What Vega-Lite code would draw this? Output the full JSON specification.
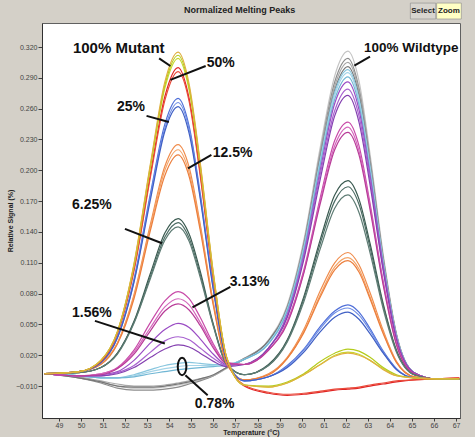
{
"$schema":"https://vega.github.io/schema/vega-lite/v6.json",
"width":418,"height":395,
"autosize":{"type":"none"},
"padding":{"left":42,"top":23,"right":15,"bottom":19},
"background":"#d4d0c8",
"config":{"view":{"fill":"white","stroke":"#606060","strokeWidth":1},"font":"Liberation Sans"},
"encoding":{
"x":{"field":"t","type":"quantitative","scale":{"domain":[48.23,67.18],"nice":false,"zero":false},
"axis":{"values":[49,50,51,52,53,54,55,56,57,58,59,60,61,62,63,64,65,66,67],"format":"d","title":"Temperature (°C)","titleFontSize":7,"titleFontWeight":"bold","titleColor":"#222","titlePadding":0,"labelFontSize":7,"labelColor":"#444","tickSize":3,"tickColor":"#404040","domainColor":"#303030","grid":false,"labelPadding":0}},
"y":{"field":"v","type":"quantitative","scale":{"domain":[-0.0411,0.3434],"nice":false,"zero":false},
"axis":{"values":[-0.01,0.02,0.05,0.08,0.11,0.14,0.17,0.2,0.23,0.26,0.29,0.32],"format":".3f","title":"Relative Signal (%)","titleFontSize":7,"titleFontWeight":"bold","titleColor":"#222","titlePadding":2,"labelFontSize":7,"labelColor":"#444","tickSize":4,"tickColor":"#404040","domainColor":"#303030","grid":false,"labelPadding":1}}
},
"layer":[
{"data":{"values":[
{"s":"g1","t":48.35,"v":0.002},{"s":"g1","t":49.9,"v":-0.002},{"s":"g1","t":50.9,"v":-0.006},{"s":"g1","t":51.65,"v":-0.010},{"s":"g1","t":52.4,"v":-0.012},{"s":"g1","t":53.15,"v":-0.012},{"s":"g1","t":53.8,"v":-0.011},{"s":"g1","t":54.4,"v":-0.009},{"s":"g1","t":54.9,"v":-0.007},{"s":"g1","t":55.4,"v":-0.004},{"s":"g1","t":56,"v":0.000},{"s":"g1","t":56.6,"v":0.008},{"s":"g1","t":57.4,"v":0.017},{"s":"g1","t":58.5,"v":0.035},{"s":"g1","t":59.35,"v":0.069},{"s":"g1","t":60.1,"v":0.132},{"s":"g1","t":60.85,"v":0.223},{"s":"g1","t":61.5,"v":0.292},{"s":"g1","t":62.1,"v":0.316},{"s":"g1","t":62.6,"v":0.287},{"s":"g1","t":63.1,"v":0.216},{"s":"g1","t":63.7,"v":0.118},{"s":"g1","t":64.3,"v":0.041},{"s":"g1","t":65.1,"v":0.003},{"s":"g1","t":66.1,"v":-0.003},{"s":"g1","t":67.15,"v":-0.003},
{"s":"g2","t":48.35,"v":0.002},{"s":"g2","t":49.9,"v":-0.002},{"s":"g2","t":50.9,"v":-0.007},{"s":"g2","t":51.65,"v":-0.012},{"s":"g2","t":52.4,"v":-0.014},{"s":"g2","t":53.15,"v":-0.014},{"s":"g2","t":53.8,"v":-0.013},{"s":"g2","t":54.4,"v":-0.011},{"s":"g2","t":54.9,"v":-0.008},{"s":"g2","t":55.4,"v":-0.005},{"s":"g2","t":56,"v":0.000},{"s":"g2","t":56.6,"v":0.008},{"s":"g2","t":57.4,"v":0.017},{"s":"g2","t":58.5,"v":0.034},{"s":"g2","t":59.35,"v":0.067},{"s":"g2","t":60.1,"v":0.129},{"s":"g2","t":60.85,"v":0.218},{"s":"g2","t":61.5,"v":0.286},{"s":"g2","t":62.1,"v":0.309},{"s":"g2","t":62.6,"v":0.280},{"s":"g2","t":63.1,"v":0.211},{"s":"g2","t":63.7,"v":0.115},{"s":"g2","t":64.3,"v":0.040},{"s":"g2","t":65.1,"v":0.003},{"s":"g2","t":66.1,"v":-0.003},{"s":"g2","t":67.15,"v":-0.003},
{"s":"g3","t":48.35,"v":0.002},{"s":"g3","t":49.9,"v":-0.001},{"s":"g3","t":50.9,"v":-0.005},{"s":"g3","t":51.65,"v":-0.008},{"s":"g3","t":52.4,"v":-0.010},{"s":"g3","t":53.15,"v":-0.010},{"s":"g3","t":53.8,"v":-0.009},{"s":"g3","t":54.4,"v":-0.007},{"s":"g3","t":54.9,"v":-0.005},{"s":"g3","t":55.4,"v":-0.003},{"s":"g3","t":56,"v":0.000},{"s":"g3","t":56.6,"v":0.007},{"s":"g3","t":57.4,"v":0.016},{"s":"g3","t":58.5,"v":0.034},{"s":"g3","t":59.35,"v":0.067},{"s":"g3","t":60.1,"v":0.128},{"s":"g3","t":60.85,"v":0.216},{"s":"g3","t":61.5,"v":0.282},{"s":"g3","t":62.1,"v":0.305},{"s":"g3","t":62.6,"v":0.277},{"s":"g3","t":63.1,"v":0.209},{"s":"g3","t":63.7,"v":0.114},{"s":"g3","t":64.3,"v":0.040},{"s":"g3","t":65.1,"v":0.003},{"s":"g3","t":66.1,"v":-0.003},{"s":"g3","t":67.15,"v":-0.003},
{"s":"g4","t":48.35,"v":0.002},{"s":"g4","t":49.9,"v":-0.002},{"s":"g4","t":50.9,"v":-0.006},{"s":"g4","t":51.65,"v":-0.010},{"s":"g4","t":52.4,"v":-0.011},{"s":"g4","t":53.15,"v":-0.011},{"s":"g4","t":53.8,"v":-0.010},{"s":"g4","t":54.4,"v":-0.008},{"s":"g4","t":54.9,"v":-0.006},{"s":"g4","t":55.4,"v":-0.003},{"s":"g4","t":56,"v":0.001},{"s":"g4","t":56.6,"v":0.008},{"s":"g4","t":57.4,"v":0.016},{"s":"g4","t":58.5,"v":0.034},{"s":"g4","t":59.35,"v":0.066},{"s":"g4","t":60.1,"v":0.126},{"s":"g4","t":60.85,"v":0.213},{"s":"g4","t":61.5,"v":0.278},{"s":"g4","t":62.1,"v":0.301},{"s":"g4","t":62.6,"v":0.273},{"s":"g4","t":63.1,"v":0.206},{"s":"g4","t":63.7,"v":0.112},{"s":"g4","t":64.3,"v":0.039},{"s":"g4","t":65.1,"v":0.003},{"s":"g4","t":66.1,"v":-0.003},{"s":"g4","t":67.15,"v":-0.003},
{"s":"l1","t":48.35,"v":0.002},{"s":"l1","t":49.9,"v":0.000},{"s":"l1","t":50.9,"v":-0.002},{"s":"l1","t":51.65,"v":-0.002},{"s":"l1","t":52.4,"v":0.001},{"s":"l1","t":53.15,"v":0.006},{"s":"l1","t":53.8,"v":0.010},{"s":"l1","t":54.4,"v":0.012},{"s":"l1","t":54.9,"v":0.013},{"s":"l1","t":55.4,"v":0.012},{"s":"l1","t":56,"v":0.011},{"s":"l1","t":56.6,"v":0.011},{"s":"l1","t":57.4,"v":0.016},{"s":"l1","t":58.5,"v":0.032},{"s":"l1","t":59.35,"v":0.065},{"s":"l1","t":60.1,"v":0.125},{"s":"l1","t":60.85,"v":0.211},{"s":"l1","t":61.5,"v":0.276},{"s":"l1","t":62.1,"v":0.298},{"s":"l1","t":62.6,"v":0.270},{"s":"l1","t":63.1,"v":0.204},{"s":"l1","t":63.7,"v":0.111},{"s":"l1","t":64.3,"v":0.039},{"s":"l1","t":65.1,"v":0.003},{"s":"l1","t":66.1,"v":-0.003},{"s":"l1","t":67.15,"v":-0.003},
{"s":"l2","t":48.35,"v":0.002},{"s":"l2","t":49.9,"v":0.000},{"s":"l2","t":50.9,"v":-0.002},{"s":"l2","t":51.65,"v":-0.002},{"s":"l2","t":52.4,"v":0.000},{"s":"l2","t":53.15,"v":0.004},{"s":"l2","t":53.8,"v":0.007},{"s":"l2","t":54.4,"v":0.009},{"s":"l2","t":54.9,"v":0.010},{"s":"l2","t":55.4,"v":0.010},{"s":"l2","t":56,"v":0.010},{"s":"l2","t":56.6,"v":0.011},{"s":"l2","t":57.4,"v":0.016},{"s":"l2","t":58.5,"v":0.032},{"s":"l2","t":59.35,"v":0.064},{"s":"l2","t":60.1,"v":0.124},{"s":"l2","t":60.85,"v":0.209},{"s":"l2","t":61.5,"v":0.273},{"s":"l2","t":62.1,"v":0.295},{"s":"l2","t":62.6,"v":0.268},{"s":"l2","t":63.1,"v":0.202},{"s":"l2","t":63.7,"v":0.110},{"s":"l2","t":64.3,"v":0.038},{"s":"l2","t":65.1,"v":0.003},{"s":"l2","t":66.1,"v":-0.003},{"s":"l2","t":67.15,"v":-0.003},
{"s":"l3","t":48.35,"v":0.002},{"s":"l3","t":49.9,"v":0.000},{"s":"l3","t":50.9,"v":-0.002},{"s":"l3","t":51.65,"v":-0.002},{"s":"l3","t":52.4,"v":-0.001},{"s":"l3","t":53.15,"v":0.002},{"s":"l3","t":53.8,"v":0.004},{"s":"l3","t":54.4,"v":0.006},{"s":"l3","t":54.9,"v":0.007},{"s":"l3","t":55.4,"v":0.008},{"s":"l3","t":56,"v":0.009},{"s":"l3","t":56.6,"v":0.010},{"s":"l3","t":57.4,"v":0.016},{"s":"l3","t":58.5,"v":0.031},{"s":"l3","t":59.35,"v":0.063},{"s":"l3","t":60.1,"v":0.122},{"s":"l3","t":60.85,"v":0.206},{"s":"l3","t":61.5,"v":0.269},{"s":"l3","t":62.1,"v":0.291},{"s":"l3","t":62.6,"v":0.264},{"s":"l3","t":63.1,"v":0.199},{"s":"l3","t":63.7,"v":0.109},{"s":"l3","t":64.3,"v":0.038},{"s":"l3","t":65.1,"v":0.003},{"s":"l3","t":66.1,"v":-0.003},{"s":"l3","t":67.15,"v":-0.003},
{"s":"p1","t":48.35,"v":0.002},{"s":"p1","t":49.9,"v":0.000},{"s":"p1","t":50.9,"v":0.001},{"s":"p1","t":51.65,"v":0.004},{"s":"p1","t":52.4,"v":0.015},{"s":"p1","t":53.15,"v":0.032},{"s":"p1","t":53.8,"v":0.045},{"s":"p1","t":54.4,"v":0.051},{"s":"p1","t":54.9,"v":0.047},{"s":"p1","t":55.4,"v":0.036},{"s":"p1","t":56,"v":0.021},{"s":"p1","t":56.6,"v":0.011},{"s":"p1","t":57.4,"v":0.011},{"s":"p1","t":58.5,"v":0.027},{"s":"p1","t":59.35,"v":0.060},{"s":"p1","t":60.1,"v":0.118},{"s":"p1","t":60.85,"v":0.201},{"s":"p1","t":61.5,"v":0.265},{"s":"p1","t":62.1,"v":0.286},{"s":"p1","t":62.6,"v":0.259},{"s":"p1","t":63.1,"v":0.195},{"s":"p1","t":63.7,"v":0.107},{"s":"p1","t":64.3,"v":0.037},{"s":"p1","t":65.1,"v":0.003},{"s":"p1","t":66.1,"v":-0.003},{"s":"p1","t":67.15,"v":-0.003},
{"s":"p2","t":48.35,"v":0.002},{"s":"p2","t":49.9,"v":0.000},{"s":"p2","t":50.9,"v":0.000},{"s":"p2","t":51.65,"v":0.003},{"s":"p2","t":52.4,"v":0.010},{"s":"p2","t":53.15,"v":0.023},{"s":"p2","t":53.8,"v":0.034},{"s":"p2","t":54.4,"v":0.038},{"s":"p2","t":54.9,"v":0.035},{"s":"p2","t":55.4,"v":0.027},{"s":"p2","t":56,"v":0.017},{"s":"p2","t":56.6,"v":0.010},{"s":"p2","t":57.4,"v":0.011},{"s":"p2","t":58.5,"v":0.027},{"s":"p2","t":59.35,"v":0.058},{"s":"p2","t":60.1,"v":0.116},{"s":"p2","t":60.85,"v":0.197},{"s":"p2","t":61.5,"v":0.258},{"s":"p2","t":62.1,"v":0.279},{"s":"p2","t":62.6,"v":0.253},{"s":"p2","t":63.1,"v":0.191},{"s":"p2","t":63.7,"v":0.104},{"s":"p2","t":64.3,"v":0.036},{"s":"p2","t":65.1,"v":0.003},{"s":"p2","t":66.1,"v":-0.003},{"s":"p2","t":67.15,"v":-0.003},
{"s":"p3","t":48.35,"v":0.002},{"s":"p3","t":49.9,"v":0.000},{"s":"p3","t":50.9,"v":0.000},{"s":"p3","t":51.65,"v":0.002},{"s":"p3","t":52.4,"v":0.008},{"s":"p3","t":53.15,"v":0.018},{"s":"p3","t":53.8,"v":0.026},{"s":"p3","t":54.4,"v":0.030},{"s":"p3","t":54.9,"v":0.028},{"s":"p3","t":55.4,"v":0.022},{"s":"p3","t":56,"v":0.014},{"s":"p3","t":56.6,"v":0.009},{"s":"p3","t":57.4,"v":0.011},{"s":"p3","t":58.5,"v":0.027},{"s":"p3","t":59.35,"v":0.057},{"s":"p3","t":60.1,"v":0.113},{"s":"p3","t":60.85,"v":0.192},{"s":"p3","t":61.5,"v":0.253},{"s":"p3","t":62.1,"v":0.273},{"s":"p3","t":62.6,"v":0.247},{"s":"p3","t":63.1,"v":0.186},{"s":"p3","t":63.7,"v":0.102},{"s":"p3","t":64.3,"v":0.035},{"s":"p3","t":65.1,"v":0.003},{"s":"p3","t":66.1,"v":-0.003},{"s":"p3","t":67.15,"v":-0.003},
{"s":"m1","t":48.35,"v":0.002},{"s":"m1","t":49.9,"v":0.000},{"s":"m1","t":50.9,"v":0.002},{"s":"m1","t":51.65,"v":0.008},{"s":"m1","t":52.4,"v":0.025},{"s":"m1","t":53.15,"v":0.052},{"s":"m1","t":53.8,"v":0.073},{"s":"m1","t":54.4,"v":0.082},{"s":"m1","t":54.9,"v":0.075},{"s":"m1","t":55.4,"v":0.057},{"s":"m1","t":56,"v":0.031},{"s":"m1","t":56.6,"v":0.013},{"s":"m1","t":57.4,"v":0.011},{"s":"m1","t":58.5,"v":0.025},{"s":"m1","t":59.35,"v":0.053},{"s":"m1","t":60.1,"v":0.103},{"s":"m1","t":60.85,"v":0.174},{"s":"m1","t":61.5,"v":0.229},{"s":"m1","t":62.1,"v":0.247},{"s":"m1","t":62.6,"v":0.224},{"s":"m1","t":63.1,"v":0.168},{"s":"m1","t":63.7,"v":0.092},{"s":"m1","t":64.3,"v":0.032},{"s":"m1","t":65.1,"v":0.002},{"s":"m1","t":66.1,"v":-0.003},{"s":"m1","t":67.15,"v":-0.003},
{"s":"m2","t":48.35,"v":0.002},{"s":"m2","t":49.9,"v":0.000},{"s":"m2","t":50.9,"v":0.002},{"s":"m2","t":51.65,"v":0.007},{"s":"m2","t":52.4,"v":0.023},{"s":"m2","t":53.15,"v":0.047},{"s":"m2","t":53.8,"v":0.067},{"s":"m2","t":54.4,"v":0.075},{"s":"m2","t":54.9,"v":0.069},{"s":"m2","t":55.4,"v":0.052},{"s":"m2","t":56,"v":0.029},{"s":"m2","t":56.6,"v":0.012},{"s":"m2","t":57.4,"v":0.011},{"s":"m2","t":58.5,"v":0.025},{"s":"m2","t":59.35,"v":0.052},{"s":"m2","t":60.1,"v":0.101},{"s":"m2","t":60.85,"v":0.171},{"s":"m2","t":61.5,"v":0.224},{"s":"m2","t":62.1,"v":0.242},{"s":"m2","t":62.6,"v":0.219},{"s":"m2","t":63.1,"v":0.165},{"s":"m2","t":63.7,"v":0.090},{"s":"m2","t":64.3,"v":0.031},{"s":"m2","t":65.1,"v":0.002},{"s":"m2","t":66.1,"v":-0.003},{"s":"m2","t":67.15,"v":-0.003},
{"s":"m3","t":48.35,"v":0.002},{"s":"m3","t":49.9,"v":0.000},{"s":"m3","t":50.9,"v":0.001},{"s":"m3","t":51.65,"v":0.007},{"s":"m3","t":52.4,"v":0.021},{"s":"m3","t":53.15,"v":0.044},{"s":"m3","t":53.8,"v":0.063},{"s":"m3","t":54.4,"v":0.070},{"s":"m3","t":54.9,"v":0.064},{"s":"m3","t":55.4,"v":0.049},{"s":"m3","t":56,"v":0.027},{"s":"m3","t":56.6,"v":0.012},{"s":"m3","t":57.4,"v":0.011},{"s":"m3","t":58.5,"v":0.025},{"s":"m3","t":59.35,"v":0.051},{"s":"m3","t":60.1,"v":0.100},{"s":"m3","t":60.85,"v":0.168},{"s":"m3","t":61.5,"v":0.220},{"s":"m3","t":62.1,"v":0.237},{"s":"m3","t":62.6,"v":0.215},{"s":"m3","t":63.1,"v":0.162},{"s":"m3","t":63.7,"v":0.088},{"s":"m3","t":64.3,"v":0.030},{"s":"m3","t":65.1,"v":0.002},{"s":"m3","t":66.1,"v":-0.003},{"s":"m3","t":67.15,"v":-0.003},
{"s":"d1","t":48.35,"v":0.002},{"s":"d1","t":49.9,"v":0.003},{"s":"d1","t":50.9,"v":0.008},{"s":"d1","t":51.65,"v":0.022},{"s":"d1","t":52.4,"v":0.053},{"s":"d1","t":53.15,"v":0.100},{"s":"d1","t":53.8,"v":0.139},{"s":"d1","t":54.4,"v":0.153},{"s":"d1","t":54.9,"v":0.138},{"s":"d1","t":55.4,"v":0.102},{"s":"d1","t":56,"v":0.050},{"s":"d1","t":56.6,"v":0.012},{"s":"d1","t":57.4,"v":0.001},{"s":"d1","t":58.5,"v":0.011},{"s":"d1","t":59.35,"v":0.035},{"s":"d1","t":60.1,"v":0.077},{"s":"d1","t":60.85,"v":0.133},{"s":"d1","t":61.5,"v":0.176},{"s":"d1","t":62.1,"v":0.190},{"s":"d1","t":62.6,"v":0.172},{"s":"d1","t":63.1,"v":0.129},{"s":"d1","t":63.7,"v":0.070},{"s":"d1","t":64.3,"v":0.025},{"s":"d1","t":65.1,"v":0.001},{"s":"d1","t":66.1,"v":-0.003},{"s":"d1","t":67.15,"v":-0.003},
{"s":"d2","t":48.35,"v":0.002},{"s":"d2","t":49.9,"v":0.003},{"s":"d2","t":50.9,"v":0.008},{"s":"d2","t":51.65,"v":0.022},{"s":"d2","t":52.4,"v":0.052},{"s":"d2","t":53.15,"v":0.097},{"s":"d2","t":53.8,"v":0.135},{"s":"d2","t":54.4,"v":0.149},{"s":"d2","t":54.9,"v":0.134},{"s":"d2","t":55.4,"v":0.099},{"s":"d2","t":56,"v":0.049},{"s":"d2","t":56.6,"v":0.011},{"s":"d2","t":57.4,"v":0.001},{"s":"d2","t":58.5,"v":0.010},{"s":"d2","t":59.35,"v":0.034},{"s":"d2","t":60.1,"v":0.075},{"s":"d2","t":60.85,"v":0.129},{"s":"d2","t":61.5,"v":0.170},{"s":"d2","t":62.1,"v":0.184},{"s":"d2","t":62.6,"v":0.167},{"s":"d2","t":63.1,"v":0.125},{"s":"d2","t":63.7,"v":0.068},{"s":"d2","t":64.3,"v":0.024},{"s":"d2","t":65.1,"v":0.001},{"s":"d2","t":66.1,"v":-0.003},{"s":"d2","t":67.15,"v":-0.003},
{"s":"d3","t":48.35,"v":0.002},{"s":"d3","t":49.9,"v":0.003},{"s":"d3","t":50.9,"v":0.008},{"s":"d3","t":51.65,"v":0.021},{"s":"d3","t":52.4,"v":0.051},{"s":"d3","t":53.15,"v":0.095},{"s":"d3","t":53.8,"v":0.132},{"s":"d3","t":54.4,"v":0.145},{"s":"d3","t":54.9,"v":0.131},{"s":"d3","t":55.4,"v":0.096},{"s":"d3","t":56,"v":0.048},{"s":"d3","t":56.6,"v":0.011},{"s":"d3","t":57.4,"v":0.001},{"s":"d3","t":58.5,"v":0.010},{"s":"d3","t":59.35,"v":0.033},{"s":"d3","t":60.1,"v":0.072},{"s":"d3","t":60.85,"v":0.124},{"s":"d3","t":61.5,"v":0.163},{"s":"d3","t":62.1,"v":0.176},{"s":"d3","t":62.6,"v":0.159},{"s":"d3","t":63.1,"v":0.120},{"s":"d3","t":63.7,"v":0.065},{"s":"d3","t":64.3,"v":0.023},{"s":"d3","t":65.1,"v":0.001},{"s":"d3","t":66.1,"v":-0.003},{"s":"d3","t":67.15,"v":-0.003},
{"s":"o1","t":48.35,"v":0.002},{"s":"o1","t":49.9,"v":0.004},{"s":"o1","t":50.9,"v":0.012},{"s":"o1","t":51.65,"v":0.032},{"s":"o1","t":52.4,"v":0.079},{"s":"o1","t":53.15,"v":0.148},{"s":"o1","t":53.8,"v":0.204},{"s":"o1","t":54.4,"v":0.225},{"s":"o1","t":54.9,"v":0.203},{"s":"o1","t":55.4,"v":0.148},{"s":"o1","t":56,"v":0.071},{"s":"o1","t":56.6,"v":0.013},{"s":"o1","t":57.4,"v":-0.004},{"s":"o1","t":58.5,"v":0.002},{"s":"o1","t":59.35,"v":0.018},{"s":"o1","t":60.1,"v":0.045},{"s":"o1","t":60.85,"v":0.083},{"s":"o1","t":61.5,"v":0.110},{"s":"o1","t":62.1,"v":0.120},{"s":"o1","t":62.6,"v":0.108},{"s":"o1","t":63.1,"v":0.081},{"s":"o1","t":63.7,"v":0.044},{"s":"o1","t":64.3,"v":0.014},{"s":"o1","t":65.1,"v":-0.001},{"s":"o1","t":66.1,"v":-0.003},{"s":"o1","t":67.15,"v":-0.003},
{"s":"o2","t":48.35,"v":0.002},{"s":"o2","t":49.9,"v":0.004},{"s":"o2","t":50.9,"v":0.012},{"s":"o2","t":51.65,"v":0.032},{"s":"o2","t":52.4,"v":0.077},{"s":"o2","t":53.15,"v":0.145},{"s":"o2","t":53.8,"v":0.200},{"s":"o2","t":54.4,"v":0.220},{"s":"o2","t":54.9,"v":0.198},{"s":"o2","t":55.4,"v":0.145},{"s":"o2","t":56,"v":0.070},{"s":"o2","t":56.6,"v":0.012},{"s":"o2","t":57.4,"v":-0.004},{"s":"o2","t":58.5,"v":0.001},{"s":"o2","t":59.35,"v":0.017},{"s":"o2","t":60.1,"v":0.043},{"s":"o2","t":60.85,"v":0.079},{"s":"o2","t":61.5,"v":0.106},{"s":"o2","t":62.1,"v":0.115},{"s":"o2","t":62.6,"v":0.104},{"s":"o2","t":63.1,"v":0.077},{"s":"o2","t":63.7,"v":0.042},{"s":"o2","t":64.3,"v":0.013},{"s":"o2","t":65.1,"v":-0.001},{"s":"o2","t":66.1,"v":-0.003},{"s":"o2","t":67.15,"v":-0.003},
{"s":"o3","t":48.35,"v":0.002},{"s":"o3","t":49.9,"v":0.004},{"s":"o3","t":50.9,"v":0.011},{"s":"o3","t":51.65,"v":0.031},{"s":"o3","t":52.4,"v":0.075},{"s":"o3","t":53.15,"v":0.142},{"s":"o3","t":53.8,"v":0.195},{"s":"o3","t":54.4,"v":0.215},{"s":"o3","t":54.9,"v":0.194},{"s":"o3","t":55.4,"v":0.142},{"s":"o3","t":56,"v":0.068},{"s":"o3","t":56.6,"v":0.012},{"s":"o3","t":57.4,"v":-0.004},{"s":"o3","t":58.5,"v":0.001},{"s":"o3","t":59.35,"v":0.017},{"s":"o3","t":60.1,"v":0.042},{"s":"o3","t":60.85,"v":0.077},{"s":"o3","t":61.5,"v":0.103},{"s":"o3","t":62.1,"v":0.112},{"s":"o3","t":62.6,"v":0.101},{"s":"o3","t":63.1,"v":0.075},{"s":"o3","t":63.7,"v":0.041},{"s":"o3","t":64.3,"v":0.013},{"s":"o3","t":65.1,"v":-0.001},{"s":"o3","t":66.1,"v":-0.003},{"s":"o3","t":67.15,"v":-0.003},
{"s":"b1","t":48.35,"v":0.002},{"s":"b1","t":49.9,"v":0.004},{"s":"b1","t":50.9,"v":0.013},{"s":"b1","t":51.65,"v":0.038},{"s":"b1","t":52.4,"v":0.094},{"s":"b1","t":53.15,"v":0.178},{"s":"b1","t":53.8,"v":0.245},{"s":"b1","t":54.4,"v":0.270},{"s":"b1","t":54.9,"v":0.243},{"s":"b1","t":55.4,"v":0.178},{"s":"b1","t":56,"v":0.086},{"s":"b1","t":56.6,"v":0.016},{"s":"b1","t":57.4,"v":-0.005},{"s":"b1","t":58.5,"v":-0.001},{"s":"b1","t":59.35,"v":0.010},{"s":"b1","t":60.1,"v":0.026},{"s":"b1","t":60.85,"v":0.048},{"s":"b1","t":61.5,"v":0.063},{"s":"b1","t":62.1,"v":0.069},{"s":"b1","t":62.6,"v":0.062},{"s":"b1","t":63.1,"v":0.046},{"s":"b1","t":63.7,"v":0.024},{"s":"b1","t":64.3,"v":0.007},{"s":"b1","t":65.1,"v":-0.002},{"s":"b1","t":66.1,"v":-0.003},{"s":"b1","t":67.15,"v":-0.003},
{"s":"b2","t":48.35,"v":0.002},{"s":"b2","t":49.9,"v":0.004},{"s":"b2","t":50.9,"v":0.013},{"s":"b2","t":51.65,"v":0.037},{"s":"b2","t":52.4,"v":0.092},{"s":"b2","t":53.15,"v":0.175},{"s":"b2","t":53.8,"v":0.241},{"s":"b2","t":54.4,"v":0.266},{"s":"b2","t":54.9,"v":0.240},{"s":"b2","t":55.4,"v":0.175},{"s":"b2","t":56,"v":0.085},{"s":"b2","t":56.6,"v":0.016},{"s":"b2","t":57.4,"v":-0.005},{"s":"b2","t":58.5,"v":-0.001},{"s":"b2","t":59.35,"v":0.009},{"s":"b2","t":60.1,"v":0.025},{"s":"b2","t":60.85,"v":0.046},{"s":"b2","t":61.5,"v":0.061},{"s":"b2","t":62.1,"v":0.066},{"s":"b2","t":62.6,"v":0.059},{"s":"b2","t":63.1,"v":0.044},{"s":"b2","t":63.7,"v":0.023},{"s":"b2","t":64.3,"v":0.006},{"s":"b2","t":65.1,"v":-0.002},{"s":"b2","t":66.1,"v":-0.003},{"s":"b2","t":67.15,"v":-0.003},
{"s":"b3","t":48.35,"v":0.002},{"s":"b3","t":49.9,"v":0.004},{"s":"b3","t":50.9,"v":0.013},{"s":"b3","t":51.65,"v":0.037},{"s":"b3","t":52.4,"v":0.091},{"s":"b3","t":53.15,"v":0.172},{"s":"b3","t":53.8,"v":0.238},{"s":"b3","t":54.4,"v":0.262},{"s":"b3","t":54.9,"v":0.236},{"s":"b3","t":55.4,"v":0.173},{"s":"b3","t":56,"v":0.083},{"s":"b3","t":56.6,"v":0.015},{"s":"b3","t":57.4,"v":-0.005},{"s":"b3","t":58.5,"v":-0.001},{"s":"b3","t":59.35,"v":0.008},{"s":"b3","t":60.1,"v":0.023},{"s":"b3","t":60.85,"v":0.043},{"s":"b3","t":61.5,"v":0.057},{"s":"b3","t":62.1,"v":0.062},{"s":"b3","t":62.6,"v":0.055},{"s":"b3","t":63.1,"v":0.041},{"s":"b3","t":63.7,"v":0.022},{"s":"b3","t":64.3,"v":0.006},{"s":"b3","t":65.1,"v":-0.002},{"s":"b3","t":66.1,"v":-0.003},{"s":"b3","t":67.15,"v":-0.003},
{"s":"r1","t":48.35,"v":0.002},{"s":"r1","t":49.9,"v":0.004},{"s":"r1","t":50.9,"v":0.014},{"s":"r1","t":51.65,"v":0.042},{"s":"r1","t":52.4,"v":0.104},{"s":"r1","t":53.15,"v":0.197},{"s":"r1","t":53.8,"v":0.272},{"s":"r1","t":54.4,"v":0.300},{"s":"r1","t":54.9,"v":0.270},{"s":"r1","t":55.4,"v":0.198},{"s":"r1","t":56,"v":0.095},{"s":"r1","t":56.6,"v":0.017},{"s":"r1","t":57.4,"v":-0.010},{"s":"r1","t":58.5,"v":-0.017},{"s":"r1","t":59.35,"v":-0.019},{"s":"r1","t":60.1,"v":-0.018},{"s":"r1","t":60.85,"v":-0.016},{"s":"r1","t":61.5,"v":-0.014},{"s":"r1","t":62.1,"v":-0.013},{"s":"r1","t":62.6,"v":-0.012},{"s":"r1","t":63.1,"v":-0.010},{"s":"r1","t":63.7,"v":-0.008},{"s":"r1","t":64.3,"v":-0.006},{"s":"r1","t":65.1,"v":-0.004},{"s":"r1","t":66.1,"v":-0.003},{"s":"r1","t":67.15,"v":-0.002},
{"s":"r2","t":48.35,"v":0.002},{"s":"r2","t":49.9,"v":0.004},{"s":"r2","t":50.9,"v":0.014},{"s":"r2","t":51.65,"v":0.041},{"s":"r2","t":52.4,"v":0.102},{"s":"r2","t":53.15,"v":0.194},{"s":"r2","t":53.8,"v":0.268},{"s":"r2","t":54.4,"v":0.296},{"s":"r2","t":54.9,"v":0.267},{"s":"r2","t":55.4,"v":0.195},{"s":"r2","t":56,"v":0.094},{"s":"r2","t":56.6,"v":0.017},{"s":"r2","t":57.4,"v":-0.009},{"s":"r2","t":58.5,"v":-0.016},{"s":"r2","t":59.35,"v":-0.018},{"s":"r2","t":60.1,"v":-0.017},{"s":"r2","t":60.85,"v":-0.015},{"s":"r2","t":61.5,"v":-0.013},{"s":"r2","t":62.1,"v":-0.012},{"s":"r2","t":62.6,"v":-0.011},{"s":"r2","t":63.1,"v":-0.009},{"s":"r2","t":63.7,"v":-0.007},{"s":"r2","t":64.3,"v":-0.005},{"s":"r2","t":65.1,"v":-0.004},{"s":"r2","t":66.1,"v":-0.003},{"s":"r2","t":67.15,"v":-0.002},
{"s":"y3","t":48.35,"v":0.002},{"s":"y3","t":49.9,"v":0.004},{"s":"y3","t":50.9,"v":0.015},{"s":"y3","t":51.65,"v":0.043},{"s":"y3","t":52.4,"v":0.107},{"s":"y3","t":53.15,"v":0.203},{"s":"y3","t":53.8,"v":0.280},{"s":"y3","t":54.4,"v":0.309},{"s":"y3","t":54.9,"v":0.278},{"s":"y3","t":55.4,"v":0.204},{"s":"y3","t":56,"v":0.098},{"s":"y3","t":56.6,"v":0.018},{"s":"y3","t":57.4,"v":-0.009},{"s":"y3","t":58.5,"v":-0.011},{"s":"y3","t":59.35,"v":-0.007},{"s":"y3","t":60.1,"v":0.001},{"s":"y3","t":60.85,"v":0.011},{"s":"y3","t":61.5,"v":0.020},{"s":"y3","t":62.1,"v":0.023},{"s":"y3","t":62.6,"v":0.021},{"s":"y3","t":63.1,"v":0.015},{"s":"y3","t":63.7,"v":0.007},{"s":"y3","t":64.3,"v":0.000},{"s":"y3","t":65.1,"v":-0.002},{"s":"y3","t":66.1,"v":-0.003},{"s":"y3","t":67.15,"v":-0.003},
{"s":"y2","t":48.35,"v":0.002},{"s":"y2","t":49.9,"v":0.004},{"s":"y2","t":50.9,"v":0.015},{"s":"y2","t":51.65,"v":0.043},{"s":"y2","t":52.4,"v":0.108},{"s":"y2","t":53.15,"v":0.205},{"s":"y2","t":53.8,"v":0.283},{"s":"y2","t":54.4,"v":0.312},{"s":"y2","t":54.9,"v":0.281},{"s":"y2","t":55.4,"v":0.206},{"s":"y2","t":56,"v":0.099},{"s":"y2","t":56.6,"v":0.018},{"s":"y2","t":57.4,"v":-0.009},{"s":"y2","t":58.5,"v":-0.010},{"s":"y2","t":59.35,"v":-0.006},{"s":"y2","t":60.1,"v":0.002},{"s":"y2","t":60.85,"v":0.014},{"s":"y2","t":61.5,"v":0.022},{"s":"y2","t":62.1,"v":0.026},{"s":"y2","t":62.6,"v":0.024},{"s":"y2","t":63.1,"v":0.018},{"s":"y2","t":63.7,"v":0.008},{"s":"y2","t":64.3,"v":0.001},{"s":"y2","t":65.1,"v":-0.002},{"s":"y2","t":66.1,"v":-0.003},{"s":"y2","t":67.15,"v":-0.003},
{"s":"y1","t":48.35,"v":0.002},{"s":"y1","t":49.9,"v":0.004},{"s":"y1","t":50.9,"v":0.015},{"s":"y1","t":51.65,"v":0.043},{"s":"y1","t":52.4,"v":0.109},{"s":"y1","t":53.15,"v":0.207},{"s":"y1","t":53.8,"v":0.286},{"s":"y1","t":54.4,"v":0.315},{"s":"y1","t":54.9,"v":0.284},{"s":"y1","t":55.4,"v":0.208},{"s":"y1","t":56,"v":0.100},{"s":"y1","t":56.6,"v":0.018},{"s":"y1","t":57.4,"v":-0.009},{"s":"y1","t":58.5,"v":-0.011},{"s":"y1","t":59.35,"v":-0.007},{"s":"y1","t":60.1,"v":0.001},{"s":"y1","t":60.85,"v":0.011},{"s":"y1","t":61.5,"v":0.019},{"s":"y1","t":62.1,"v":0.022},{"s":"y1","t":62.6,"v":0.020},{"s":"y1","t":63.1,"v":0.015},{"s":"y1","t":63.7,"v":0.006},{"s":"y1","t":64.3,"v":0.000},{"s":"y1","t":65.1,"v":-0.002},{"s":"y1","t":66.1,"v":-0.003},{"s":"y1","t":67.15,"v":-0.003}
]},
"mark":{"type":"line","strokeWidth":1.2,"interpolate":"monotone","clip":true},
"encoding":{
"color":{"field":"s","type":"nominal","legend":null,"scale":{
"domain":["g1","g2","g3","g4","l1","l2","l3","p1","p2","p3","m1","m2","m3","d1","d2","d3","o1","o2","o3","b1","b2","b3","r1","r2","y3","y2","y1"],
"range":["#c4c4c4","#8c8c8c","#a8a8a8","#767676","#88c6de","#a4d4e8","#70b6d4","#9a4cc4","#a862d0","#8440b0","#c84aa8","#d466bc","#b83c98","#3a5a50","#4c6c64","#5e7c74","#f08c4c","#f4a468","#ec7e3c","#4f6fd8","#6f8ee6","#3f5fc4","#e02424","#ea4a3a","#c8d830","#b4cc1c","#e0b040"]}}
}},
{"data":{"values":[
{"t":53.54,"v":0.309,"t2":54.05,"v2":0.3015},
{"t":55.65,"v":0.3015,"t2":54.05,"v2":0.288},
{"t":52.97,"v":0.253,"t2":53.98,"v2":0.247},
{"t":55.91,"v":0.215,"t2":54.85,"v2":0.202},
{"t":51.99,"v":0.143,"t2":53.67,"v2":0.129},
{"t":56.77,"v":0.0865,"t2":55.05,"v2":0.0665},
{"t":50.63,"v":0.0534,"t2":53.8,"v2":0.0314},
{"t":54.73,"v":0.0005,"t2":55.74,"v2":-0.019},
{"t":63.1,"v":0.3106,"t2":62.39,"v2":0.3018}
]},
"mark":{"type":"rule","strokeWidth":2,"color":"#111"},
"encoding":{"x2":{"field":"t2"},"y2":{"field":"v2"}}},
{"data":{"values":[{"t":54.58,"v":0.009}]},
"mark":{"type":"point","shape":"M0,-1A0.5,1 0 1,1 0,1A0.5,1 0 1,1 0,-1Z","size":300,"filled":false,"stroke":"#111","strokeWidth":2,"opacity":1},
"encoding":{}},
{"data":{"values":[
{"t":51.71,"v":0.319,"label":"100% Mutant","fs":15},
{"t":56.33,"v":0.304,"label":"50%","fs":14},
{"t":52.26,"v":0.262,"label":"25%","fs":14},
{"t":56.87,"v":0.217,"label":"12.5%","fs":14},
{"t":50.49,"v":0.166,"label":"6.25%","fs":14},
{"t":57.64,"v":0.091,"label":"3.13%","fs":14},
{"t":50.49,"v":0.061,"label":"1.56%","fs":14},
{"t":56.06,"v":-0.027,"label":"0.78%","fs":14},
{"t":64.97,"v":0.319,"label":"100% Wildtype","fs":13.5}
]},
"mark":{"type":"text","fontWeight":"bold","font":"Liberation Sans","color":"#111","align":"center","baseline":"middle"},
"encoding":{"text":{"field":"label"},"size":{"field":"fs","type":"quantitative","scale":null,"legend":null}}},
{"data":{"values":[
{"t":64.93,"t2":66.08,"v":0.3473,"v2":0.3628,"fill":"#d8d5cf"},
{"t":66.12,"t2":67.24,"v":0.3473,"v2":0.3628,"fill":"#ffffc4"}
]},
"mark":{"type":"rect","stroke":"#8a8a8a","strokeWidth":0.6},
"encoding":{"x2":{"field":"t2"},"y2":{"field":"v2"},"fill":{"field":"fill","type":"nominal","scale":null,"legend":null}}},
{"data":{"values":[
{"t":65.505,"v":0.355,"label":"Select","fs":8,"st":"normal"},
{"t":66.68,"v":0.355,"label":"Zoom","fs":8,"st":"normal"},
{"t":57.19,"v":0.356,"label":"Normalized Melting Peaks","fs":9,"st":"italic"}
]},
"mark":{"type":"text","fontWeight":"bold","font":"Liberation Sans","color":"#222","align":"center","baseline":"middle"},
"encoding":{"text":{"field":"label"},"size":{"field":"fs","type":"quantitative","scale":null,"legend":null},"fontStyle":{"field":"st","type":"nominal","scale":null,"legend":null}}}
]
}
